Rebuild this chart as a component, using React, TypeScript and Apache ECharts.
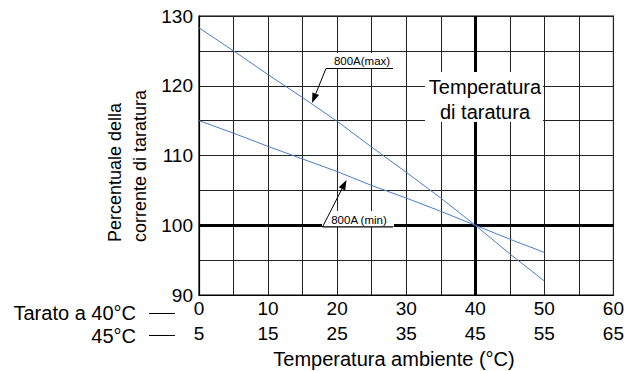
import React, { useEffect, useRef } from "react";
import * as echarts from "echarts";

const temps = [0, 5, 10, 15, 20, 25, 30, 35, 40, 45, 50];
const maxValues = [128.3, 125.0, 121.6, 118.3, 114.9, 111.2, 107.6, 103.9, 100, 95.9, 92.0];
const minValues = [115.0, 113.2, 111.3, 109.5, 107.7, 105.7, 103.9, 102.0, 100, 98.0, 96.1];
const calibTemp = 40;
const calibPercent = 100;
const yTitleLines = ["Percentuale della", "corrente di taratura"];
const xTitle = "Temperatura ambiente (°C)";
const rowLabels = ["Tarato a 40°C", "45°C"];
const calibLabel = ["Temperatura", "di taratura"];
const maxLabel = "800A(max)";
const minLabel = "800A (min)";

const FONT = "Liberation Sans, Arial, Helvetica, sans-serif";
const BLUE = "#4a7cc6";

function arrow(x1: number, y1: number, x2: number, y2: number) {
  const dx = x2 - x1;
  const dy = y2 - y1;
  const len = Math.sqrt(dx * dx + dy * dy);
  const ux = dx / len;
  const uy = dy / len;
  const hl = 10;
  const hw = 3.6;
  const bx = x2 - ux * hl;
  const by = y2 - uy * hl;
  return [
    {
      type: "line",
      z: 120,
      shape: { x1, y1, x2: bx, y2: by },
      style: { stroke: "#000", lineWidth: 1 },
    },
    {
      type: "polygon",
      z: 120,
      shape: {
        points: [
          [x2, y2],
          [bx - uy * hw, by + ux * hw],
          [bx + uy * hw, by - ux * hw],
        ],
      },
      style: { fill: "#000" },
    },
  ];
}

export default function App() {
  const ref = useRef<HTMLDivElement>(null);
  useEffect(() => {
    if (!ref.current) return;
    const chart = echarts.init(ref.current, null, { renderer: "svg" });
    const graphic: any[] = [
      // Y axis title (two rotated lines)
      {
        type: "text",
        x: 115,
        y: 242,
        rotation: Math.PI / 2,
        z: 100,
        style: { text: yTitleLines[0], font: `18px ${FONT}`, fill: "#000", align: "left", verticalAlign: "middle" },
      },
      {
        type: "text",
        x: 140,
        y: 242,
        rotation: Math.PI / 2,
        z: 100,
        style: { text: yTitleLines[1], font: `18px ${FONT}`, fill: "#000", align: "left", verticalAlign: "middle" },
      },
      // X axis title
      {
        type: "text",
        x: 394,
        y: 359,
        z: 100,
        style: { text: xTitle, font: `20px ${FONT}`, fill: "#000", align: "center", verticalAlign: "middle" },
      },
      // Row labels
      {
        type: "text",
        x: 136,
        y: 313,
        z: 100,
        style: { text: rowLabels[0], font: `20px ${FONT}`, fill: "#000", align: "right", verticalAlign: "middle" },
      },
      {
        type: "text",
        x: 136,
        y: 336,
        z: 100,
        style: { text: rowLabels[1], font: `20px ${FONT}`, fill: "#000", align: "right", verticalAlign: "middle" },
      },
      { type: "line", z: 100, shape: { x1: 149, y1: 313.5, x2: 175, y2: 313.5 }, style: { stroke: "#000", lineWidth: 1 } },
      { type: "line", z: 100, shape: { x1: 149, y1: 335.5, x2: 175, y2: 335.5 }, style: { stroke: "#000", lineWidth: 1 } },
      // Calibration label box
      { type: "rect", z: 100, shape: { x: 425, y: 72, width: 118, height: 50 }, style: { fill: "#fff" } },
      {
        type: "text",
        x: 485,
        y: 87,
        z: 110,
        style: { text: calibLabel[0], font: `20px ${FONT}`, fill: "#000", align: "center", verticalAlign: "middle" },
      },
      {
        type: "text",
        x: 485,
        y: 112,
        z: 110,
        style: { text: calibLabel[1], font: `20px ${FONT}`, fill: "#000", align: "center", verticalAlign: "middle" },
      },
      // 800A(max) label
      { type: "rect", z: 100, shape: { x: 329, y: 53, width: 64, height: 15 }, style: { fill: "#fff" } },
      {
        type: "text",
        x: 362,
        y: 61,
        z: 110,
        style: { text: maxLabel, font: `11.5px ${FONT}`, fill: "#000", align: "center", verticalAlign: "middle" },
      },
      { type: "line", z: 110, shape: { x1: 326, y1: 68.5, x2: 393, y2: 68.5 }, style: { stroke: "#000", lineWidth: 1 } },
      ...arrow(326, 68.5, 312, 103),
      // 800A (min) label
      { type: "rect", z: 100, shape: { x: 322, y: 211, width: 72, height: 15.5 }, style: { fill: "#fff" } },
      {
        type: "text",
        x: 359,
        y: 219.5,
        z: 110,
        style: { text: minLabel, font: `11.5px ${FONT}`, fill: "#000", align: "center", verticalAlign: "middle" },
      },
      { type: "line", z: 110, shape: { x1: 322.5, y1: 227, x2: 393, y2: 227 }, style: { stroke: "#000", lineWidth: 1 } },
      ...arrow(322.5, 227, 346.5, 180),
    ];

    const option: any = {
      animation: false,
      backgroundColor: "#fff",
      grid: {
        left: 199,
        right: 9,
        top: 16,
        bottom: 76,
        show: true,
        borderColor: "#000",
        borderWidth: 1.2,
        backgroundColor: "transparent",
      },
      xAxis: [
        {
          type: "value",
          min: 0,
          max: 60,
          interval: 5,
          position: "bottom",
          axisLine: { show: true, lineStyle: { color: "#000", width: 1.2 } },
          axisTick: { show: false },
          splitLine: { show: true, lineStyle: { color: "#222", width: 1 } },
          axisLabel: {
            formatter: (v: number) => (v % 10 === 0 ? String(v) : ""),
            fontSize: 19,
            fontFamily: FONT,
            color: "#000",
            margin: 4,
          },
        },
        {
          type: "value",
          min: 5,
          max: 65,
          interval: 5,
          position: "bottom",
          offset: 25,
          axisLine: { show: false },
          axisTick: { show: false },
          splitLine: { show: false },
          axisLabel: {
            formatter: (v: number) => ((v - 5) % 10 === 0 ? String(v) : ""),
            fontSize: 19,
            fontFamily: FONT,
            color: "#000",
            margin: 4,
          },
        },
      ],
      yAxis: {
        type: "value",
        min: 90,
        max: 130,
        interval: 5,
        axisLine: { show: true, lineStyle: { color: "#000", width: 1.2 } },
        axisTick: { show: false },
        splitLine: { show: true, lineStyle: { color: "#222", width: 1 } },
        axisLabel: {
          formatter: (v: number) => (v % 10 === 0 ? String(v) : ""),
          fontSize: 19,
          fontFamily: FONT,
          color: "#000",
          margin: 6,
        },
      },
      series: [
        {
          name: "800A(max)",
          type: "line",
          xAxisIndex: 0,
          data: temps.map((t, i) => [t, maxValues[i]]),
          showSymbol: false,
          symbol: "none",
          lineStyle: { color: BLUE, width: 1 },
          z: 5,
          markLine: {
            silent: true,
            symbol: ["none", "none"],
            label: { show: false },
            lineStyle: { color: "#000", width: 3, type: "solid" },
            data: [{ xAxis: calibTemp }, { yAxis: calibPercent }],
            z: 3,
          },
        },
        {
          name: "800A (min)",
          type: "line",
          xAxisIndex: 0,
          data: temps.map((t, i) => [t, minValues[i]]),
          showSymbol: false,
          symbol: "none",
          lineStyle: { color: BLUE, width: 1 },
          z: 5,
        },
      ],
      graphic,
    };
    chart.setOption(option);
    return () => chart.dispose();
  }, []);
  return (
    <div
      ref={ref}
      style={{ position: "absolute", left: 0, top: 0, width: 627, height: 371, background: "#fff" }}
    />
  );
}
